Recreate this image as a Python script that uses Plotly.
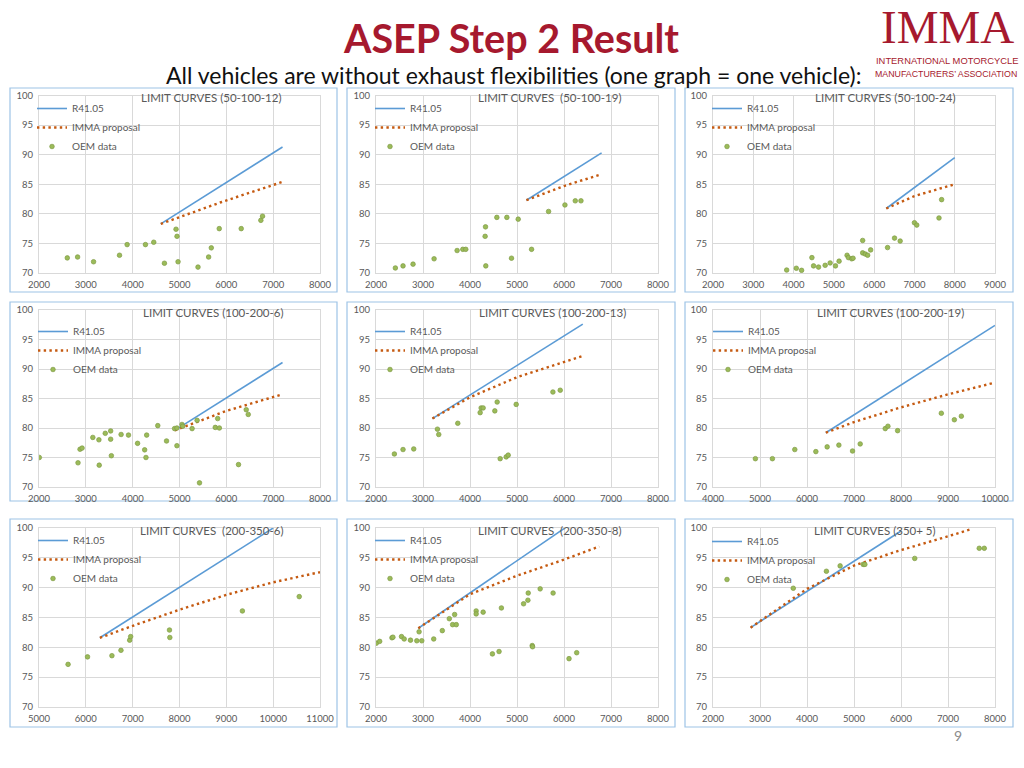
import plotly.graph_objects as go

W, H = 1024, 768

# ---------------- data ----------------
p1_title = "LIMIT CURVES (50-100-12)"
p1_r41_x = [4600, 7200]
p1_r41_y = [78.3, 91.3]
p1_imma_x = [4600, 5900, 7200]
p1_imma_y = [78.3, 82.0, 85.4]
p1_oem_x = [2604, 2824, 3165, 3719, 3882, 4273, 4450, 4678, 4926, 4947, 4969, 5395, 5622, 5679, 5849, 6318, 6737, 6773]
p1_oem_y = [72.55, 72.7, 71.9, 73.0, 74.8, 74.8, 75.2, 71.65, 77.4, 76.2, 71.9, 71.0, 72.7, 74.25, 77.5, 77.5, 78.9, 79.6]

p2_title = "LIMIT CURVES  (50-100-19)"
p2_r41_x = [5200, 6800]
p2_r41_y = [82.3, 90.3]
p2_imma_x = [5200, 6000, 6800]
p2_imma_y = [82.3, 84.7, 86.7]
p2_oem_x = [2412, 2575, 2788, 3236, 3726, 3847, 3910, 4322, 4330, 4336, 4571, 4784, 5026, 4883, 5310, 5672, 6020, 6240, 6361]
p2_oem_y = [70.85, 71.2, 71.5, 72.4, 73.8, 74.0, 74.0, 76.2, 77.8, 71.2, 79.4, 79.4, 79.1, 72.5, 74.0, 80.4, 81.5, 82.2, 82.2]

p3_title = "LIMIT CURVES (50-100-24)"
p3_r41_x = [6300, 8000]
p3_r41_y = [80.9, 89.5]
p3_imma_x = [6300, 7000, 8000]
p3_imma_y = [80.9, 83.0, 85.0]
p3_oem_x = [3829, 4068, 4199, 4455, 4496, 4620, 4784, 4908, 5040, 5130, 5328, 5361, 5443, 5476, 5715, 5715, 5781, 5839, 5913, 6333, 6506, 6646, 7000, 7058, 7610, 7675]
p3_oem_y = [70.5, 70.8, 70.45, 72.6, 71.2, 71.0, 71.3, 71.7, 71.2, 72.0, 73.0, 72.6, 72.4, 72.5, 75.5, 73.4, 73.2, 73.0, 73.9, 74.3, 75.9, 75.4, 78.5, 78.1, 79.3, 82.4]

p4_title = "LIMIT CURVES (100-200-6)"
p4_r41_x = [4900, 7200]
p4_r41_y = [79.6, 91.1]
p4_imma_x = [4900, 6000, 7150]
p4_imma_y = [79.6, 82.9, 85.6]
p4_oem_x = [2007, 2833, 2876, 2920, 3149, 3279, 3286, 3415, 3530, 3530, 3545, 3753, 3911, 4105, 4256, 4284, 4299, 4536, 4723, 4895, 4945, 4945, 5053, 5068, 5269, 5376, 5427, 5764, 5815, 5851, 6260, 6425, 6468]
p4_oem_y = [75.0, 74.1, 76.4, 76.6, 78.4, 78.0, 73.7, 79.1, 79.5, 78.1, 75.3, 78.9, 78.8, 77.4, 76.3, 75.0, 78.8, 80.4, 77.8, 79.9, 77.0, 80.0, 80.6, 80.3, 79.9, 81.3, 70.7, 80.1, 81.6, 80.0, 73.8, 83.1, 82.3]

p5_title = "LIMIT CURVES (100-200-13)"
p5_r41_x = [3200, 6400]
p5_r41_y = [81.6, 97.6]
p5_imma_x = [3200, 4000, 5000, 6000, 6400]
p5_imma_y = [81.6, 85.2, 88.6, 91.2, 92.2]
p5_oem_x = [2391, 2575, 2803, 3307, 3335, 3740, 4216, 4237, 4280, 4528, 4578, 4642, 4770, 4813, 4983, 5764, 5920]
p5_oem_y = [75.6, 76.35, 76.45, 79.8, 78.9, 80.8, 82.6, 83.4, 83.4, 82.9, 84.4, 74.8, 75.1, 75.4, 84.0, 86.1, 86.4]

p6_title = "LIMIT CURVES (100-200-19)"
p6_r41_x = [6400, 10000]
p6_r41_y = [79.2, 97.4]
p6_imma_x = [6400, 7000, 8000, 9000, 10000]
p6_imma_y = [79.2, 81.0, 83.5, 85.7, 87.7]
p6_oem_x = [4902, 5264, 5740, 6188, 6429, 6678, 6969, 7132, 7665, 7722, 7928, 8858, 9135, 9284]
p6_oem_y = [74.8, 74.8, 76.35, 76.0, 76.8, 77.1, 76.1, 77.3, 79.9, 80.3, 79.55, 82.5, 81.4, 82.0]

p7_title = "LIMIT CURVES  (200-350-6)"
p7_r41_x = [6300, 10000]
p7_r41_y = [81.6, 100.0]
p7_imma_x = [6300, 7000, 8000, 9000, 10000, 11000]
p7_imma_y = [81.6, 83.6, 86.3, 88.8, 90.9, 92.6]
p7_oem_x = [5621, 6036, 6557, 6750, 6936, 6957, 7786, 7793, 9343, 10557]
p7_oem_y = [77.15, 78.4, 78.6, 79.5, 81.2, 81.8, 82.9, 81.65, 86.1, 88.5]

p8_title = "LIMIT CURVES  (200-350-8)"
p8_r41_x = [2900, 6000]
p8_r41_y = [83.2, 99.9]
p8_imma_x = [2900, 3500, 4000, 5000, 6000, 6750]
p8_imma_y = [83.2, 86.3, 88.9, 92.0, 94.7, 96.9]
p8_oem_x = [2007, 2078, 2339, 2360, 2543, 2600, 2734, 2868, 2917, 2974, 3228, 3411, 3560, 3630, 3708, 3673, 4131, 4131, 4280, 4477, 4618, 4668, 5140, 5232, 5239, 5324, 5331, 5493, 5768, 6107, 6270]
p8_oem_y = [80.7, 81.0, 81.6, 81.7, 81.8, 81.4, 81.2, 81.1, 82.6, 81.1, 81.4, 82.8, 84.8, 83.8, 83.8, 85.5, 86.1, 85.6, 85.9, 78.9, 79.3, 86.6, 87.3, 87.9, 89.1, 80.3, 80.1, 89.8, 89.1, 78.1, 79.1]

p9_title = "LIMIT CURVES (350+ 5)"
p9_r41_x = [2800, 6000]
p9_r41_y = [83.3, 99.5]
p9_imma_x = [2800, 4000, 5000, 6000, 7000, 7490]
p9_imma_y = [83.3, 89.8, 93.7, 96.3, 98.6, 99.8]
p9_oem_x = [3708, 4413, 4705, 5196, 5231, 6292, 7665, 7772]
p9_oem_y = [89.9, 92.75, 93.65, 93.9, 93.9, 94.9, 96.6, 96.6]

x_ranges = [[2000, 8000], [2000, 8000], [2000, 9000],
            [2000, 8000], [2000, 8000], [4000, 10000],
            [5000, 11000], [2000, 8000], [2000, 8000]]
y_range = [70, 100]

series_names = ["R41.05", "IMMA proposal", "OEM data"]
page_title = "ASEP Step 2 Result"
page_subtitle = "All vehicles are without exhaust flexibilities (one graph = one vehicle):"
page_number = "9"

panels = [
    (p1_title, p1_r41_x, p1_r41_y, p1_imma_x, p1_imma_y, p1_oem_x, p1_oem_y),
    (p2_title, p2_r41_x, p2_r41_y, p2_imma_x, p2_imma_y, p2_oem_x, p2_oem_y),
    (p3_title, p3_r41_x, p3_r41_y, p3_imma_x, p3_imma_y, p3_oem_x, p3_oem_y),
    (p4_title, p4_r41_x, p4_r41_y, p4_imma_x, p4_imma_y, p4_oem_x, p4_oem_y),
    (p5_title, p5_r41_x, p5_r41_y, p5_imma_x, p5_imma_y, p5_oem_x, p5_oem_y),
    (p6_title, p6_r41_x, p6_r41_y, p6_imma_x, p6_imma_y, p6_oem_x, p6_oem_y),
    (p7_title, p7_r41_x, p7_r41_y, p7_imma_x, p7_imma_y, p7_oem_x, p7_oem_y),
    (p8_title, p8_r41_x, p8_r41_y, p8_imma_x, p8_imma_y, p8_oem_x, p8_oem_y),
    (p9_title, p9_r41_x, p9_r41_y, p9_imma_x, p9_imma_y, p9_oem_x, p9_oem_y),
]

# ---------------- layout geometry (pixels) ----------------
col_px = [(39, 320), (376, 658), (713, 995)]
row_px = [(95.5, 273), (310, 487), (528, 707)]
frame_col = [(10, 337), (347, 675), (685, 1013)]
frame_row = [(88, 292), (302, 501), (519, 727)]
title_px = [(211, 98), (549, 98), (885, 98),
            (213, 313), (552, 313), (890, 313),
            (211, 530), (549, 530), (875, 530)]
legend_px = [(72, 108), (410, 108), (747, 108),
             (73, 331), (410, 331), (748, 331),
             (73, 540), (410, 540), (747, 541)]


def fx(p):
    return p / W


def fy(p):
    return 1 - p / H


FONT = "Lato"
GRAY = "#595959"
BLUE = "#5B9BD5"
ORANGE = "#C55A11"
GREEN = "#9BBB59"
RED = "#A6192E"

fig = go.Figure()
layout = dict(
    width=W, height=H, autosize=False, margin=dict(l=0, r=0, t=0, b=0, pad=0),
    paper_bgcolor="white", plot_bgcolor="white",
    font=dict(family=FONT, color=GRAY),
    annotations=[], shapes=[],
)

for i, (ttl, rx, ry, ix, iy, ox, oy) in enumerate(panels):
    r, c = divmod(i, 3)
    n = "" if i == 0 else str(i + 1)
    xa, ya = "x" + n, "y" + n
    lg = "legend" + n
    fig.add_trace(go.Scatter(x=rx, y=ry, mode="lines", name=series_names[0],
                             line=dict(color=BLUE, width=1.6),
                             xaxis=xa, yaxis=ya, legend=lg))
    fig.add_trace(go.Scatter(x=ix, y=iy, mode="lines", name=series_names[1],
                             line=dict(color=ORANGE, width=2.4, dash="2.4px,3.3px"),
                             xaxis=xa, yaxis=ya, legend=lg))
    fig.add_trace(go.Scatter(x=ox, y=oy, mode="markers", name=series_names[2],
                             marker=dict(color=GREEN, size=4.6,
                                         line=dict(color="#7F9B45", width=0.7)),
                             xaxis=xa, yaxis=ya, legend=lg))
    x0, x1 = col_px[c]
    y0, y1 = row_px[r]
    ax_common = dict(showgrid=True, gridcolor="#D9D9D9", gridwidth=1,
                     zeroline=False, showline=True, linecolor="#D9D9D9",
                     linewidth=1, mirror=True, ticks="",
                     tickfont=dict(family=FONT, size=9.5, color=GRAY),
                     tickformat="d", fixedrange=True, automargin=False)
    layout["xaxis" + n] = dict(domain=[fx(x0), fx(x1)], range=x_ranges[i],
                               dtick=1000, tick0=0, anchor=ya,
                               ticklabelstandoff=3, **ax_common)
    layout["yaxis" + n] = dict(domain=[fy(y1), fy(y0)], range=y_range,
                               dtick=5, tick0=0, anchor=xa,
                               ticklabelstandoff=3, **ax_common)
    lx, ly = legend_px[i]
    layout[lg] = dict(x=fx(lx - 40), y=fy(ly - 14), xanchor="left", yanchor="top",
                      xref="paper", yref="paper",
                      bgcolor="rgba(0,0,0,0)", borderwidth=0,
                      font=dict(family=FONT, size=10, color=GRAY),
                      itemwidth=30, tracegroupgap=0)
    tx, ty = title_px[i]
    layout["annotations"].append(dict(
        x=fx(tx), y=fy(ty), xref="paper", yref="paper", text=ttl,
        showarrow=False, xanchor="center", yanchor="middle",
        font=dict(family=FONT, size=11.5, color=GRAY)))
    fx0, fx1 = frame_col[c]
    fy0, fy1 = frame_row[r]
    layout["shapes"].append(dict(
        type="rect", xref="paper", yref="paper",
        x0=fx(fx0), x1=fx(fx1), y0=fy(fy1), y1=fy(fy0),
        line=dict(color="#9DC3E6", width=1.2), fillcolor="rgba(0,0,0,0)",
        layer="below"))

# header texts
layout["annotations"] += [
    dict(x=fx(511), y=fy(37.5), xref="paper", yref="paper", text="<b>" + page_title + "</b>",
         showarrow=False, xanchor="center", yanchor="middle",
         font=dict(family=FONT, size=39.5, color=RED)),
    dict(x=fx(513), y=fy(75.4), xref="paper", yref="paper", text=page_subtitle,
         showarrow=False, xanchor="center", yanchor="middle",
         font=dict(family=FONT, size=23, color="#111111")),
    dict(x=fx(947), y=fy(27), xref="paper", yref="paper", text="IMMA",
         showarrow=False, xanchor="center", yanchor="middle",
         font=dict(family="Liberation Serif", size=47, color=RED)),
    dict(x=fx(947), y=fy(60.8), xref="paper", yref="paper", text="INTERNATIONAL MOTORCYCLE",
         showarrow=False, xanchor="center", yanchor="middle",
         font=dict(family="Liberation Sans", size=9.4, color=RED)),
    dict(x=fx(946), y=fy(73.5), xref="paper", yref="paper", text="MANUFACTURERS’ ASSOCIATION",
         showarrow=False, xanchor="center", yanchor="middle",
         font=dict(family="Liberation Sans", size=8.8, color=RED)),
    dict(x=fx(958), y=fy(735), xref="paper", yref="paper", text=page_number,
         showarrow=False, xanchor="center", yanchor="middle",
         font=dict(family=FONT, size=14, color="#8C8C8C")),
]

fig.update_layout(**layout)
post = (
    "document.documentElement.style.margin='0';"
    "document.documentElement.style.padding='0';"
    "document.documentElement.style.overflow='hidden';"
    "document.body.style.margin='0';"
    "document.body.style.padding='0';"
    "document.body.style.overflow='hidden';"
    "var gd=document.getElementsByClassName('plotly-graph-div')[0];"
    "gd.style.position='fixed';gd.style.left='0px';gd.style.top='0px';"
)
fig.write_html("out.html", config={"displayModeBar": False, "responsive": False},
               post_script=post)
